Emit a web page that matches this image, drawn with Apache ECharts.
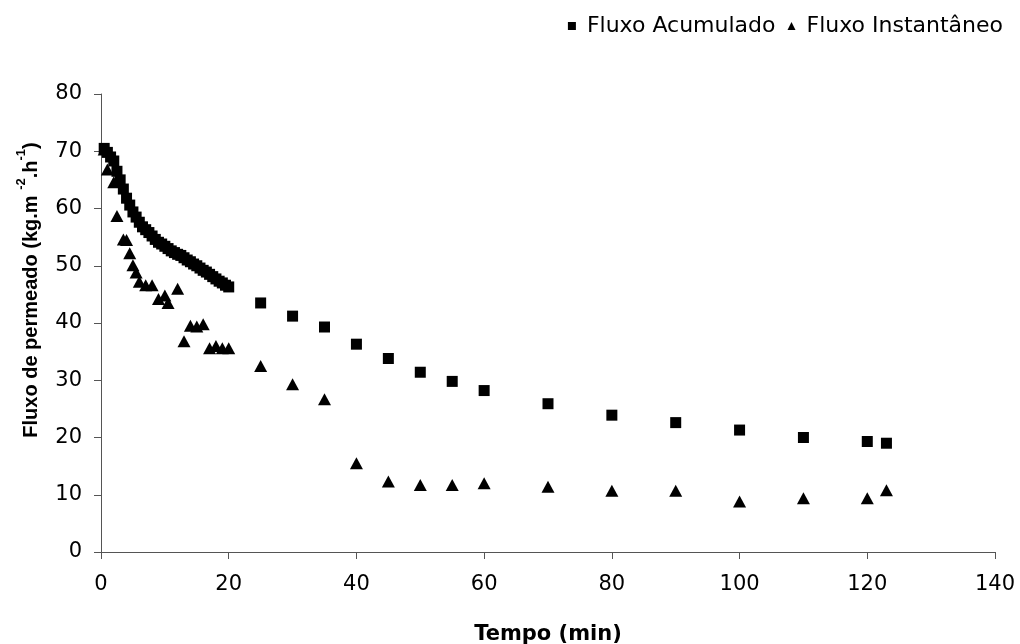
<!DOCTYPE html>
<html><head><meta charset="utf-8">
<script src="https://cdn.jsdelivr.net/npm/echarts@6/dist/echarts.min.js"></script>
<style>html,body{margin:0;padding:0;background:#fff}#c{width:1020px;height:644px}</style>
</head><body><div id="c"></div>
<script>
// Fluxo Acumulado (squares)
const accTime = [0.5,1,1.5,2,2.5,3,3.5,4,4.5,5,5.5,6,6.5,7,7.5,8,8.5,9,9.5,10,10.5,11,11.5,12,12.5,13,13.5,14,14.5,15,15.5,16,16.5,17,17.5,18,18.5,19,19.5,20,25,30,35,40,45,50,55,60,70,80,90,100,110,120,123];
const accFlux = [70.5,69.8,69.0,68.3,66.5,65.0,63.4,61.8,60.6,59.4,58.5,57.6,56.8,56.3,55.8,55.2,54.6,54.1,53.8,53.4,53.0,52.6,52.3,52.0,51.8,51.4,51.0,50.7,50.3,50.0,49.6,49.2,48.9,48.5,48.1,47.7,47.3,47.0,46.6,46.3,43.5,41.2,39.3,36.3,33.8,31.4,29.8,28.2,25.9,23.9,22.6,21.3,20.0,19.3,19.0];
// Fluxo Instantâneo (triangles)
const instTime = [0.5,1,2,2.5,3.5,4,4.5,5,5.5,6,7,8,9,10,10.5,12,13,14,15,16,17,18,19,20,25,30,35,40,45,50,55,60,70,80,90,100,110,120,123];
const instFlux = [70.3,66.8,64.6,58.7,54.6,54.5,52.2,50.1,48.8,47.2,46.6,46.6,44.2,44.8,43.5,46.0,36.8,39.5,39.4,39.8,35.6,36.0,35.6,35.6,32.5,29.3,26.7,15.5,12.3,11.7,11.7,12.0,11.4,10.7,10.7,8.8,9.4,9.4,10.8];
const seriesNames = ['Fluxo Acumulado','Fluxo Instantâneo'];
const xTitle = 'Tempo (min)';

const FONT = 'DejaVu Sans';
const TFONT = 'Liberation Sans';
const chart = echarts.init(document.getElementById('c'), null, {renderer:'canvas'});
chart.setOption({
  animation:false,
  backgroundColor:'#fff',
  grid:{left:101, right:25, top:94, bottom:92, containLabel:false, outerBoundsMode:'none'},
  legend:{
    right:12, top:10, itemWidth:8, itemHeight:8, itemGap:12,
    textStyle:{fontFamily:FONT, fontSize:22, color:'#000', padding:[0,0,0,6]},
    data:[{name:seriesNames[0], icon:'rect'},{name:seriesNames[1], icon:'triangle'}]
  },
  xAxis:{
    type:'value', min:0, max:140, interval:20,
    name:xTitle, nameLocation:'middle', nameGap:72,
    nameTextStyle:{fontFamily:FONT, fontSize:21, fontWeight:'bold', color:'#000'},
    axisLine:{show:true, onZero:false, lineStyle:{color:'#555', width:1}},
    axisTick:{show:true, inside:false, length:7, lineStyle:{color:'#555'}},
    axisLabel:{margin:22, fontFamily:FONT, fontSize:21, color:'#000'},
    splitLine:{show:false}
  },
  yAxis:{
    type:'value', min:0, max:80, interval:10,
    name:'{a|Fluxo de permeado (kg.m }{s|-2}{a|.h}{s|-1}{a|)}',
    nameLocation:'middle', nameGap:60, nameRotate:90,
    nameTextStyle:{fontFamily:TFONT, fontSize:20, fontWeight:'bold', color:'#000',
      padding:[0,0,0,66],
      rich:{
        a:{fontFamily:TFONT, fontSize:20, fontWeight:'bold', color:'#000', lineHeight:26, verticalAlign:'bottom'},
        s:{fontFamily:TFONT, fontSize:13, fontWeight:'bold', color:'#000', lineHeight:26, verticalAlign:'top'}
      }},
    axisLine:{show:true, onZero:false, lineStyle:{color:'#555', width:1}},
    axisTick:{show:true, inside:false, length:7, lineStyle:{color:'#555'}},
    axisLabel:{margin:19, fontFamily:FONT, fontSize:21, color:'#000'},
    splitLine:{show:false}
  },
  series:[
    {name:seriesNames[0], type:'scatter', symbol:'rect', symbolSize:11,
     itemStyle:{color:'#000', opacity:1}, data:accTime.map((t,i)=>[t,accFlux[i]])},
    {name:seriesNames[1], type:'scatter', symbol:'triangle', symbolSize:[13,12],
     itemStyle:{color:'#000', opacity:1}, data:instTime.map((t,i)=>[t,instFlux[i]])}
  ]
});
</script>
</body></html>
